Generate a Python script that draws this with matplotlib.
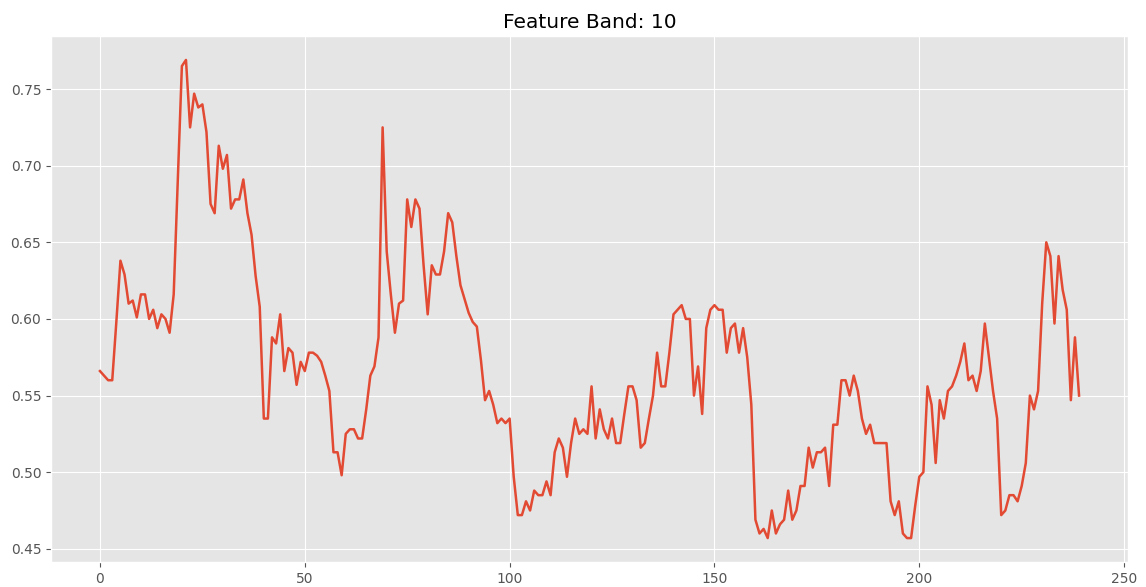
import numpy as np
import matplotlib
matplotlib.use("Agg")
import matplotlib.pyplot as plt

plt.style.use("ggplot")

band = 10
values = [
    0.566, 0.563, 0.560, 0.560, 0.598, 0.638, 0.629, 0.610, 0.612, 0.601,
    0.616, 0.616, 0.600, 0.606, 0.594, 0.603, 0.600, 0.591, 0.616, 0.690,
    0.765, 0.769, 0.725, 0.747, 0.738, 0.740, 0.722, 0.675, 0.669, 0.713,
    0.698, 0.707, 0.672, 0.678, 0.678, 0.691, 0.669, 0.655, 0.628, 0.608,
    0.535, 0.535, 0.588, 0.584, 0.603, 0.566, 0.581, 0.578, 0.557, 0.572,
    0.566, 0.578, 0.578, 0.576, 0.572, 0.563, 0.553, 0.513, 0.513, 0.498,
    0.525, 0.528, 0.528, 0.522, 0.522, 0.541, 0.563, 0.569, 0.588, 0.725,
    0.644, 0.616, 0.591, 0.610, 0.612, 0.678, 0.660, 0.678, 0.672, 0.635,
    0.603, 0.635, 0.629, 0.629, 0.644, 0.669, 0.663, 0.641, 0.622, 0.613,
    0.604, 0.598, 0.595, 0.573, 0.547, 0.553, 0.544, 0.532, 0.535, 0.532,
    0.535, 0.497, 0.472, 0.472, 0.481, 0.475, 0.488, 0.485, 0.485, 0.494,
    0.485, 0.513, 0.522, 0.516, 0.497, 0.519, 0.535, 0.525, 0.528, 0.525,
    0.556, 0.522, 0.541, 0.528, 0.522, 0.535, 0.519, 0.519, 0.538, 0.556,
    0.556, 0.547, 0.516, 0.519, 0.535, 0.550, 0.578, 0.556, 0.556, 0.578,
    0.603, 0.606, 0.609, 0.600, 0.600, 0.550, 0.569, 0.538, 0.594, 0.606,
    0.609, 0.606, 0.606, 0.578, 0.594, 0.597, 0.578, 0.594, 0.575, 0.544,
    0.469, 0.460, 0.463, 0.457, 0.475, 0.460, 0.466, 0.469, 0.488, 0.469,
    0.475, 0.491, 0.491, 0.516, 0.503, 0.513, 0.513, 0.516, 0.491, 0.531,
    0.531, 0.560, 0.560, 0.550, 0.563, 0.553, 0.535, 0.525, 0.531, 0.519,
    0.519, 0.519, 0.519, 0.481, 0.472, 0.481, 0.460, 0.457, 0.457, 0.478,
    0.497, 0.500, 0.556, 0.544, 0.506, 0.547, 0.535, 0.553, 0.556, 0.563,
    0.572, 0.584, 0.560, 0.563, 0.553, 0.566, 0.597, 0.575, 0.553, 0.535,
    0.472, 0.475, 0.485, 0.485, 0.481, 0.491, 0.506, 0.550, 0.541, 0.553,
    0.610, 0.650, 0.641, 0.597, 0.641, 0.619, 0.606, 0.547, 0.588, 0.550,
]

fig = plt.figure(figsize=(11.46, 5.87), dpi=100)
ax = fig.add_axes([0.0445, 0.0426, 0.9398, 0.896])
ax.plot(np.arange(len(values)), values, linewidth=1.8)
ax.set_title(f"Feature Band: {band}", fontsize=14.5)
ax.tick_params(labelsize=10)

fig.savefig("out.png", dpi=100)
